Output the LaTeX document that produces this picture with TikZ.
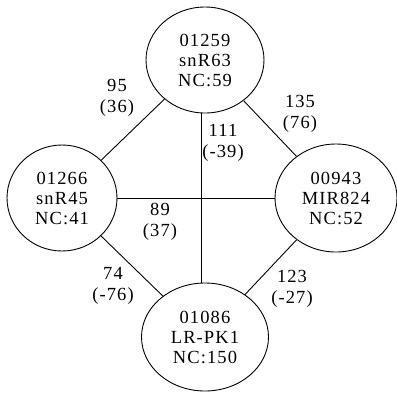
\documentclass[tikz,border=0pt]{standalone}
\usepackage{fontspec}
\setmainfont{Liberation Serif}[LetterSpace=6]
\usetikzlibrary{shapes.geometric}
\begin{document}
\begin{tikzpicture}[x=1pt,y=-1pt,
  ell/.style={draw, line width=0.9pt, ellipse, inner sep=0pt, align=center,
    font=\fontsize{18.5}{20}\selectfont},
  lab/.style={inner sep=0pt, align=center, font=\fontsize{18.5}{21.5}\selectfont},
  edge/.style={line width=0.9pt}]
\useasboundingbox (0,0) rectangle (397,392);
\node[ell, minimum width=118pt, minimum height=106pt] (t) at (205,60) {01259\\snR63\\NC:59};
\node[ell, minimum width=110pt, minimum height=106pt] (l) at (62,198) {01266\\snR45\\NC:41};
\node[ell, minimum width=122pt, minimum height=108pt] (r) at (336,198) {00943\\MIR824\\NC:52};
\node[ell, minimum width=127pt, minimum height=108pt] (b) at (205,337) {01086\\LR-PK1\\NC:150};
\draw[edge] (t) -- (l);
\draw[edge] (t) -- (r);
\draw[edge] ([xshift=-4pt]t.south) -- ([xshift=-4pt]b.north);
\draw[edge] (l) -- (r);
\draw[edge] (l) -- (b);
\draw[edge] (r) -- (b);
\node[lab] (e1) at (117,98) {95\\(36)};
\node[lab] (e2) at (300,114) {135\\(76)};
\node[lab] (e3) at (223,143) {111\\(-39)};
\node[lab] (e4) at (160,222) {89\\(37)};
\node[lab] (e5) at (113,286) {74\\(-76)};
\node[lab] (e6) at (292,289) {123\\(-27)};
\end{tikzpicture}
\end{document}
